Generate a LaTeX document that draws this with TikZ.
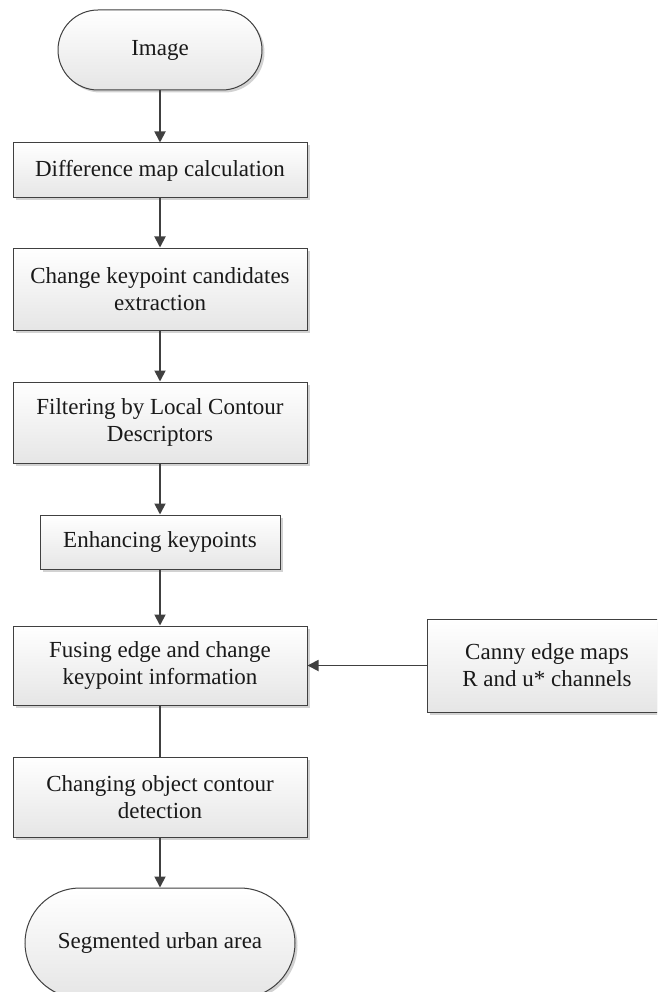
\documentclass[tikz,border=0pt]{standalone}
\usepackage{fontspec}
\setmainfont{Liberation Serif}
\usetikzlibrary{arrows.meta,shadows}
\definecolor{edgec}{HTML}{404040}
\tikzset{
  base/.style={draw=edgec, line width=1pt, top color=white, bottom color=gray!20,
    drop shadow={shadow xshift=2.5pt, shadow yshift=-2.5pt, fill=gray!50, opacity=0.7},
    font=\fontsize{23}{27}\selectfont, align=center, inner sep=0pt, text=black!90},
  procbox/.style={base, rectangle},
  termbox/.style={base, rectangle, rounded corners=#1},
  conn/.style={draw=edgec, line width=1.8pt, -{Triangle[length=11pt,width=11pt]}},
  plainconn/.style={draw=edgec, line width=1.8pt}
}
\begin{document}
\begin{tikzpicture}[x=1pt,y=-1pt]
\useasboundingbox (0,0) rectangle (657,992);
\clip (0,0) rectangle (657,992);
\node[termbox=40pt, minimum width=204pt, minimum height=80pt] (img) at (160,50) {Image};
\node[procbox, minimum width=294pt, minimum height=55pt] (diff) at (160,170.5) {Difference map calculation};
\node[procbox, minimum width=294pt, minimum height=82pt] (cand) at (160,289) {Change keypoint candidates\\extraction};
\node[procbox, minimum width=294pt, minimum height=81pt] (filt) at (160,422.5) {Filtering by Local Contour\\Descriptors};
\node[procbox, minimum width=240pt, minimum height=54pt] (enh) at (160,542) {Enhancing keypoints};
\node[procbox, minimum width=294pt, minimum height=79pt] (fuse) at (160,665.5) {Fusing edge and change\\keypoint information};
\node[procbox, minimum width=240pt, minimum height=93pt] (canny) at (547,665.5) {Canny edge maps\\R and u* channels};
\node[procbox, minimum width=294pt, minimum height=80pt] (cont) at (160,797) {Changing object contour\\detection};
\node[termbox=55pt, minimum width=270pt, minimum height=110pt] (seg) at (160,943) {Segmented urban area};
\draw[conn] (img) -- (diff);
\draw[conn] (diff) -- (cand);
\draw[conn] (cand) -- (filt);
\draw[conn] (filt) -- (enh);
\draw[conn] (enh) -- (fuse);
\draw[conn] (canny) -- (fuse);
\draw[plainconn] (fuse) -- (cont);
\draw[conn] (cont) -- (seg);
\end{tikzpicture}
\end{document}
